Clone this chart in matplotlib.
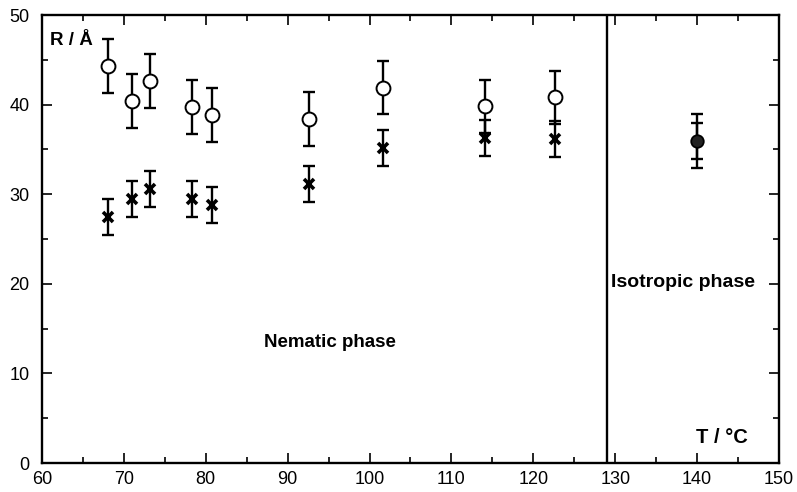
import numpy as np
import matplotlib.pyplot as plt
from matplotlib.ticker import MultipleLocator

# Temperatures (°C) et rayons (Å)
T_nem = [68.1, 71.0, 73.2, 78.3, 80.8, 92.6, 101.6, 114.1, 122.6]
R_circ = [44.3, 40.4, 42.6, 39.7, 38.8, 38.4, 41.9, 39.8, 40.8]
R_circ_err = [3.0, 3.0, 3.0, 3.0, 3.0, 3.0, 3.0, 3.0, 3.0]
R_cross = [27.5, 29.5, 30.6, 29.5, 28.8, 31.1, 35.2, 36.3, 36.2]
R_cross_err = [2.0, 2.0, 2.0, 2.0, 2.0, 2.0, 2.0, 2.0, 2.0]

T_iso = [140.0]
R_iso = [35.9]
R_iso_err = [3.0]
R_iso_err2 = [2.0]

T_transition = 129

plt.rcParams['font.family'] = ['Liberation Sans', 'DejaVu Sans']

fig = plt.figure(figsize=(7.97, 4.92), dpi=100)
ax = fig.add_axes([0.0527, 0.0589, 0.9247, 0.9106])

eb = dict(fmt='none', ecolor='black', elinewidth=1.7, capsize=4, capthick=1.7)

ax.errorbar(T_nem, R_circ, yerr=R_circ_err, **eb)
ax.plot(T_nem, R_circ, 'o', ms=10, mfc='white', mec='black', mew=1.4, ls='none')

ax.errorbar(T_nem, R_cross, yerr=R_cross_err, **eb)
ax.plot(T_nem, R_cross, 'x', ms=6.5, mec='black', mew=2.6, ls='none')

ax.errorbar(T_iso, R_iso, yerr=R_iso_err, **eb)
ax.errorbar(T_iso, R_iso, yerr=R_iso_err2, **eb)
ax.plot(T_iso, R_iso, 'o', ms=9, mfc='#222222', mec='black', mew=1.3, ls='none')

ax.axvline(T_transition, color='black', lw=1.7)

ax.set_xlim(60, 150)
ax.set_ylim(0, 50)
ax.xaxis.set_major_locator(MultipleLocator(10))
ax.xaxis.set_minor_locator(MultipleLocator(5))
ax.yaxis.set_major_locator(MultipleLocator(10))
ax.yaxis.set_minor_locator(MultipleLocator(5))
ax.tick_params(which='both', direction='in', top=True, right=True, width=1.2)
ax.tick_params(which='major', length=7, labelsize=13)
ax.tick_params(which='minor', length=4)
ax.tick_params(axis='y', pad=9)
ax.tick_params(axis='x', pad=6)
for s in ax.spines.values():
    s.set_linewidth(1.7)

ax.text(61.0, 47.2, 'R / Å', fontsize=13.5, fontweight='bold', ha='left', va='center')
ax.text(95.2, 13.5, 'Nematic phase', fontsize=13.5, fontweight='bold', ha='center', va='center')
ax.text(138.3, 20.1, 'Isotropic phase', fontsize=14, fontweight='bold', ha='center', va='center')
ax.text(143.0, 2.9, 'T / °C', fontsize=14.5, fontweight='bold', ha='center', va='center')

fig.savefig('out.png', dpi=100)
